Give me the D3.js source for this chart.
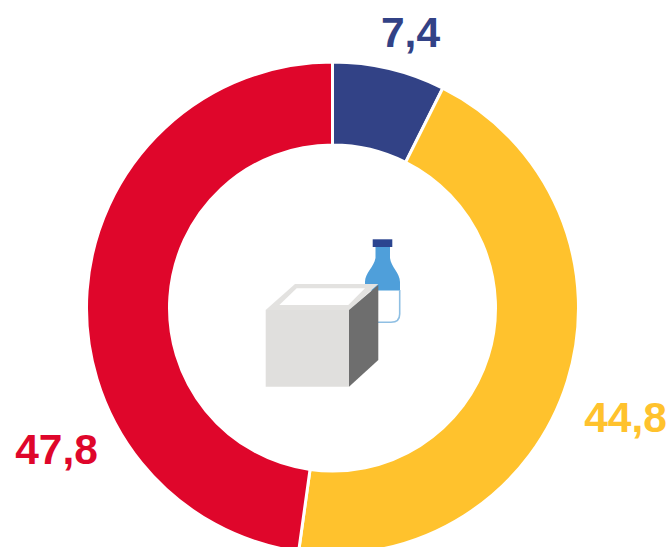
<!DOCTYPE html>
<html>
<head>
<meta charset="utf-8">
<script src="https://cdn.jsdelivr.net/npm/d3@7"></script>
<style>
html,body{margin:0;padding:0;background:#fff;overflow:hidden}
svg{display:block}
text{font-family:"Liberation Sans",Arial,sans-serif;font-weight:700}
</style>
</head>
<body>
<svg id="chart" width="672" height="547"></svg>
<script>
const categories = ["A", "B", "C"];
const values = [7.4, 44.8, 47.8];
const tickLabels = ["7,4", "44,8", "47,8"];
const colors = ["#324286", "#FFC22D", "#DF062B"];

const svg = d3.select("#chart");
const cx = 332.5, cy = 308, rOuter = 246, rInner = 163;
const labelPos = [[410.5, 47], [625.5, 432], [56.5, 464]];
const fontSize = 42.5;

const pie = d3.pie().sort(null).value(d => d)(values);
const arc = d3.arc().innerRadius(rInner).outerRadius(rOuter);

svg.append("g").attr("transform", `translate(${cx},${cy})`)
  .selectAll("path").data(pie).join("path")
  .attr("d", arc)
  .attr("fill", (d, i) => colors[i])
  .attr("stroke", "#fff")
  .attr("stroke-width", 3);

svg.append("g").selectAll("text").data(tickLabels).join("text")
  .attr("x", (d, i) => labelPos[i][0])
  .attr("y", (d, i) => labelPos[i][1])
  .attr("text-anchor", "middle")
  .attr("font-size", fontSize)
  .attr("fill", (d, i) => colors[i])
  .text(d => d);

// Central icon: bottle behind a box
const icon = svg.append("g");
icon.append("path")
  .attr("d", "M375.5,247 L390,247 L390,258 C391,267 400,273 400,282 L400,314 C400,320 396,322.5 391,322.5 L378,322.5 L378,291 L365,291 L365,282 C365,273 374,267 375.5,258 Z")
  .attr("fill", "#fff");
icon.append("path")
  .attr("d", "M375.5,247 L390,247 L390,258 C391,267 400,273 400,282 L400,290.5 L365,290.5 L365,282 C365,273 374,267 375.5,258 Z")
  .attr("fill", "#4F9FDA");
icon.append("path")
  .attr("d", "M399.7,290 L399.7,314 C399.7,320 396,322.3 391,322.3 L378,322.3")
  .attr("fill", "none").attr("stroke", "#8FBFE3").attr("stroke-width", 1.6);
icon.append("rect").attr("x", 372.7).attr("y", 239.3).attr("width", 19.6).attr("height", 7.7).attr("fill", "#2B4590");
icon.append("path").attr("d", "M265.7,310 L295,284 L378.3,284 L349,310 Z").attr("fill", "#E3E2E0");
icon.append("path").attr("d", "M279.3,305 L296.7,288.3 L365,288.3 L348.3,305 Z").attr("fill", "#fff");
icon.append("path").attr("d", "M265.7,310 L349,310 L349,386.7 L265.7,386.7 Z").attr("fill", "#E0DFDD");
icon.append("path").attr("d", "M349,310 L378.3,285 L378.3,360 L349,386.7 Z").attr("fill", "#6E6E6E");
</script>
</body>
</html>
